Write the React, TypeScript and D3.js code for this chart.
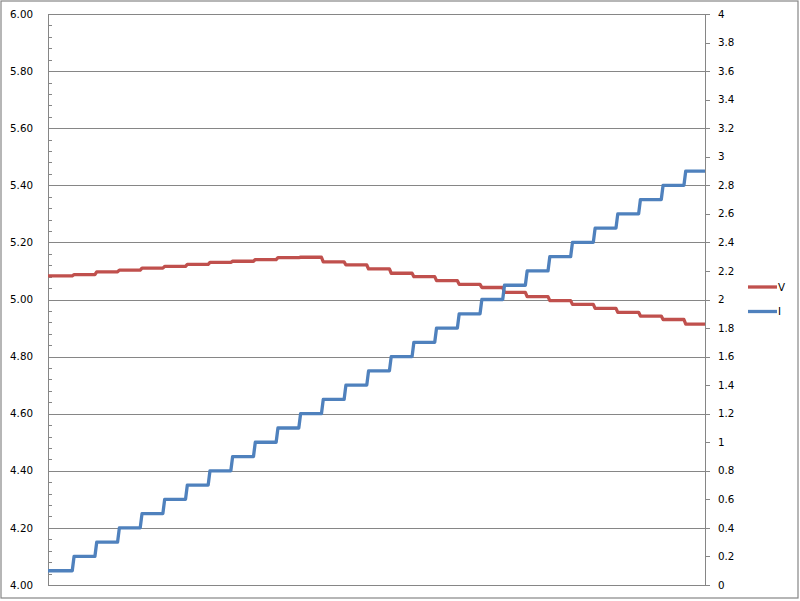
import React from "react";
import * as d3 from "d3";

// Start time of each current level (arbitrary time units); series ends at END_TIME
const levelStart = [0, 10.7, 20.7, 30.7, 40.7, 50.7, 60.7, 70.7, 80.7, 90.7, 100.7, 110.7, 120.7, 130.7, 140.7, 150.7, 160.7, 170.7, 180.7, 190.7, 200.7, 210.7, 220.7, 230.7, 240.7, 250.7, 260.7, 270.7, 280.7];
const END_TIME = 290;
const currentI = [0.1, 0.2, 0.3, 0.4, 0.5, 0.6, 0.7, 0.8, 0.9, 1.0, 1.1, 1.2, 1.3, 1.4, 1.5, 1.6, 1.7, 1.8, 1.9, 2.0, 2.1, 2.2, 2.3, 2.4, 2.5, 2.6, 2.7, 2.8, 2.9];
const voltageV = [5.083, 5.087, 5.097, 5.103, 5.110, 5.116, 5.123, 5.130, 5.134, 5.140, 5.147, 5.148, 5.132, 5.121, 5.107, 5.092, 5.080, 5.066, 5.053, 5.042, 5.025, 5.010, 4.996, 4.983, 4.969, 4.955, 4.942, 4.930, 4.914];

const leftTicks = [4.0, 4.2, 4.4, 4.6, 4.8, 5.0, 5.2, 5.4, 5.6, 5.8, 6.0];
const rightTicks = [0, 0.2, 0.4, 0.6, 0.8, 1, 1.2, 1.4, 1.6, 1.8, 2, 2.2, 2.4, 2.6, 2.8, 3, 3.2, 3.4, 3.6, 3.8, 4];
const seriesNames = ["V", "I"];
const seriesColors = ["#C0504D", "#4F81BD"];

const W = 800, H = 601;
const plot = { left: 48, right: 705, top: 14, bottom: 585 };
const RISE = 0.8;

function stepPoints(vals: number[]): [number, number][] {
  const pts: [number, number][] = [];
  vals.forEach((v, k) => {
    const s = k === 0 ? levelStart[0] : levelStart[k] + RISE;
    const e = k + 1 < levelStart.length ? levelStart[k + 1] : END_TIME;
    pts.push([s, v]);
    pts.push([e, v]);
  });
  return pts;
}

export default function App() {
  const x = d3.scaleLinear().domain([0, END_TIME]).range([plot.left, plot.right]);
  const yL = d3.scaleLinear().domain([4, 6]).range([plot.bottom, plot.top]);
  const yR = d3.scaleLinear().domain([0, 4]).range([plot.bottom, plot.top]);

  const lineV = d3.line<[number, number]>().x(d => x(d[0])).y(d => yL(d[1]));
  const lineI = d3.line<[number, number]>().x(d => x(d[0])).y(d => yR(d[1]));

  const minor = d3.range(4, 6.0001, 0.04);
  const grid = "#868686";
  const font = "'DejaVu Sans', Verdana, sans-serif";

  return (
    <svg width={W} height={H} style={{ position: "absolute", left: 0, top: 0, background: "#fff" }}>
      <rect x={1} y={1} width={797} height={597} fill="#fff" stroke={grid} strokeWidth={1.2} />
      {leftTicks.map(t => (
        <line key={"g" + t} x1={plot.left} x2={plot.right} y1={Math.round(yL(t)) + 0.5} y2={Math.round(yL(t)) + 0.5} stroke={grid} strokeWidth={1} />
      ))}
      {minor.map(t => (
        <line key={"m" + t} x1={plot.left} x2={plot.left + 4} y1={Math.round(yL(t)) + 0.5} y2={Math.round(yL(t)) + 0.5} stroke={grid} strokeWidth={1} />
      ))}
      {rightTicks.map(t => (
        <line key={"r" + t} x1={plot.right} x2={plot.right + 5} y1={Math.round(yR(t)) + 0.5} y2={Math.round(yR(t)) + 0.5} stroke={grid} strokeWidth={1} />
      ))}
      <line x1={plot.left + 0.5} x2={plot.left + 0.5} y1={plot.top} y2={plot.bottom} stroke={grid} />
      <line x1={plot.right + 0.5} x2={plot.right + 0.5} y1={plot.top} y2={plot.bottom + 0.5} stroke={grid} />
      <line x1={plot.left} x2={plot.right} y1={plot.bottom + 0.5} y2={plot.bottom + 0.5} stroke={grid} />

      {leftTicks.map(t => (
        <text key={"lt" + t} x={33} y={yL(t)} dy="0.35em" textAnchor="end" fontFamily={font} fontSize={10.3} fill="#000">{t.toFixed(2)}</text>
      ))}
      {rightTicks.map(t => (
        <text key={"rt" + t} x={718} y={yR(t)} dy="0.35em" textAnchor="start" fontFamily={font} fontSize={10.3} fill="#000">{String(t)}</text>
      ))}

      <path d={lineV(stepPoints(voltageV)) || ""} fill="none" stroke={seriesColors[0]} strokeWidth={3.3} strokeLinejoin="round" />
      <path d={lineI(stepPoints(currentI)) || ""} fill="none" stroke={seriesColors[1]} strokeWidth={3.3} strokeLinejoin="round" />

      {seriesNames.map((n, i) => (
        <g key={n}>
          <line x1={748} x2={777} y1={287 + i * 24.5} y2={287 + i * 24.5} stroke={seriesColors[i]} strokeWidth={3.3} />
          <text x={778} y={287 + i * 24.5} dy="0.35em" fontFamily={font} fontSize={10.3} fill="#000">{n}</text>
        </g>
      ))}
    </svg>
  );
}
